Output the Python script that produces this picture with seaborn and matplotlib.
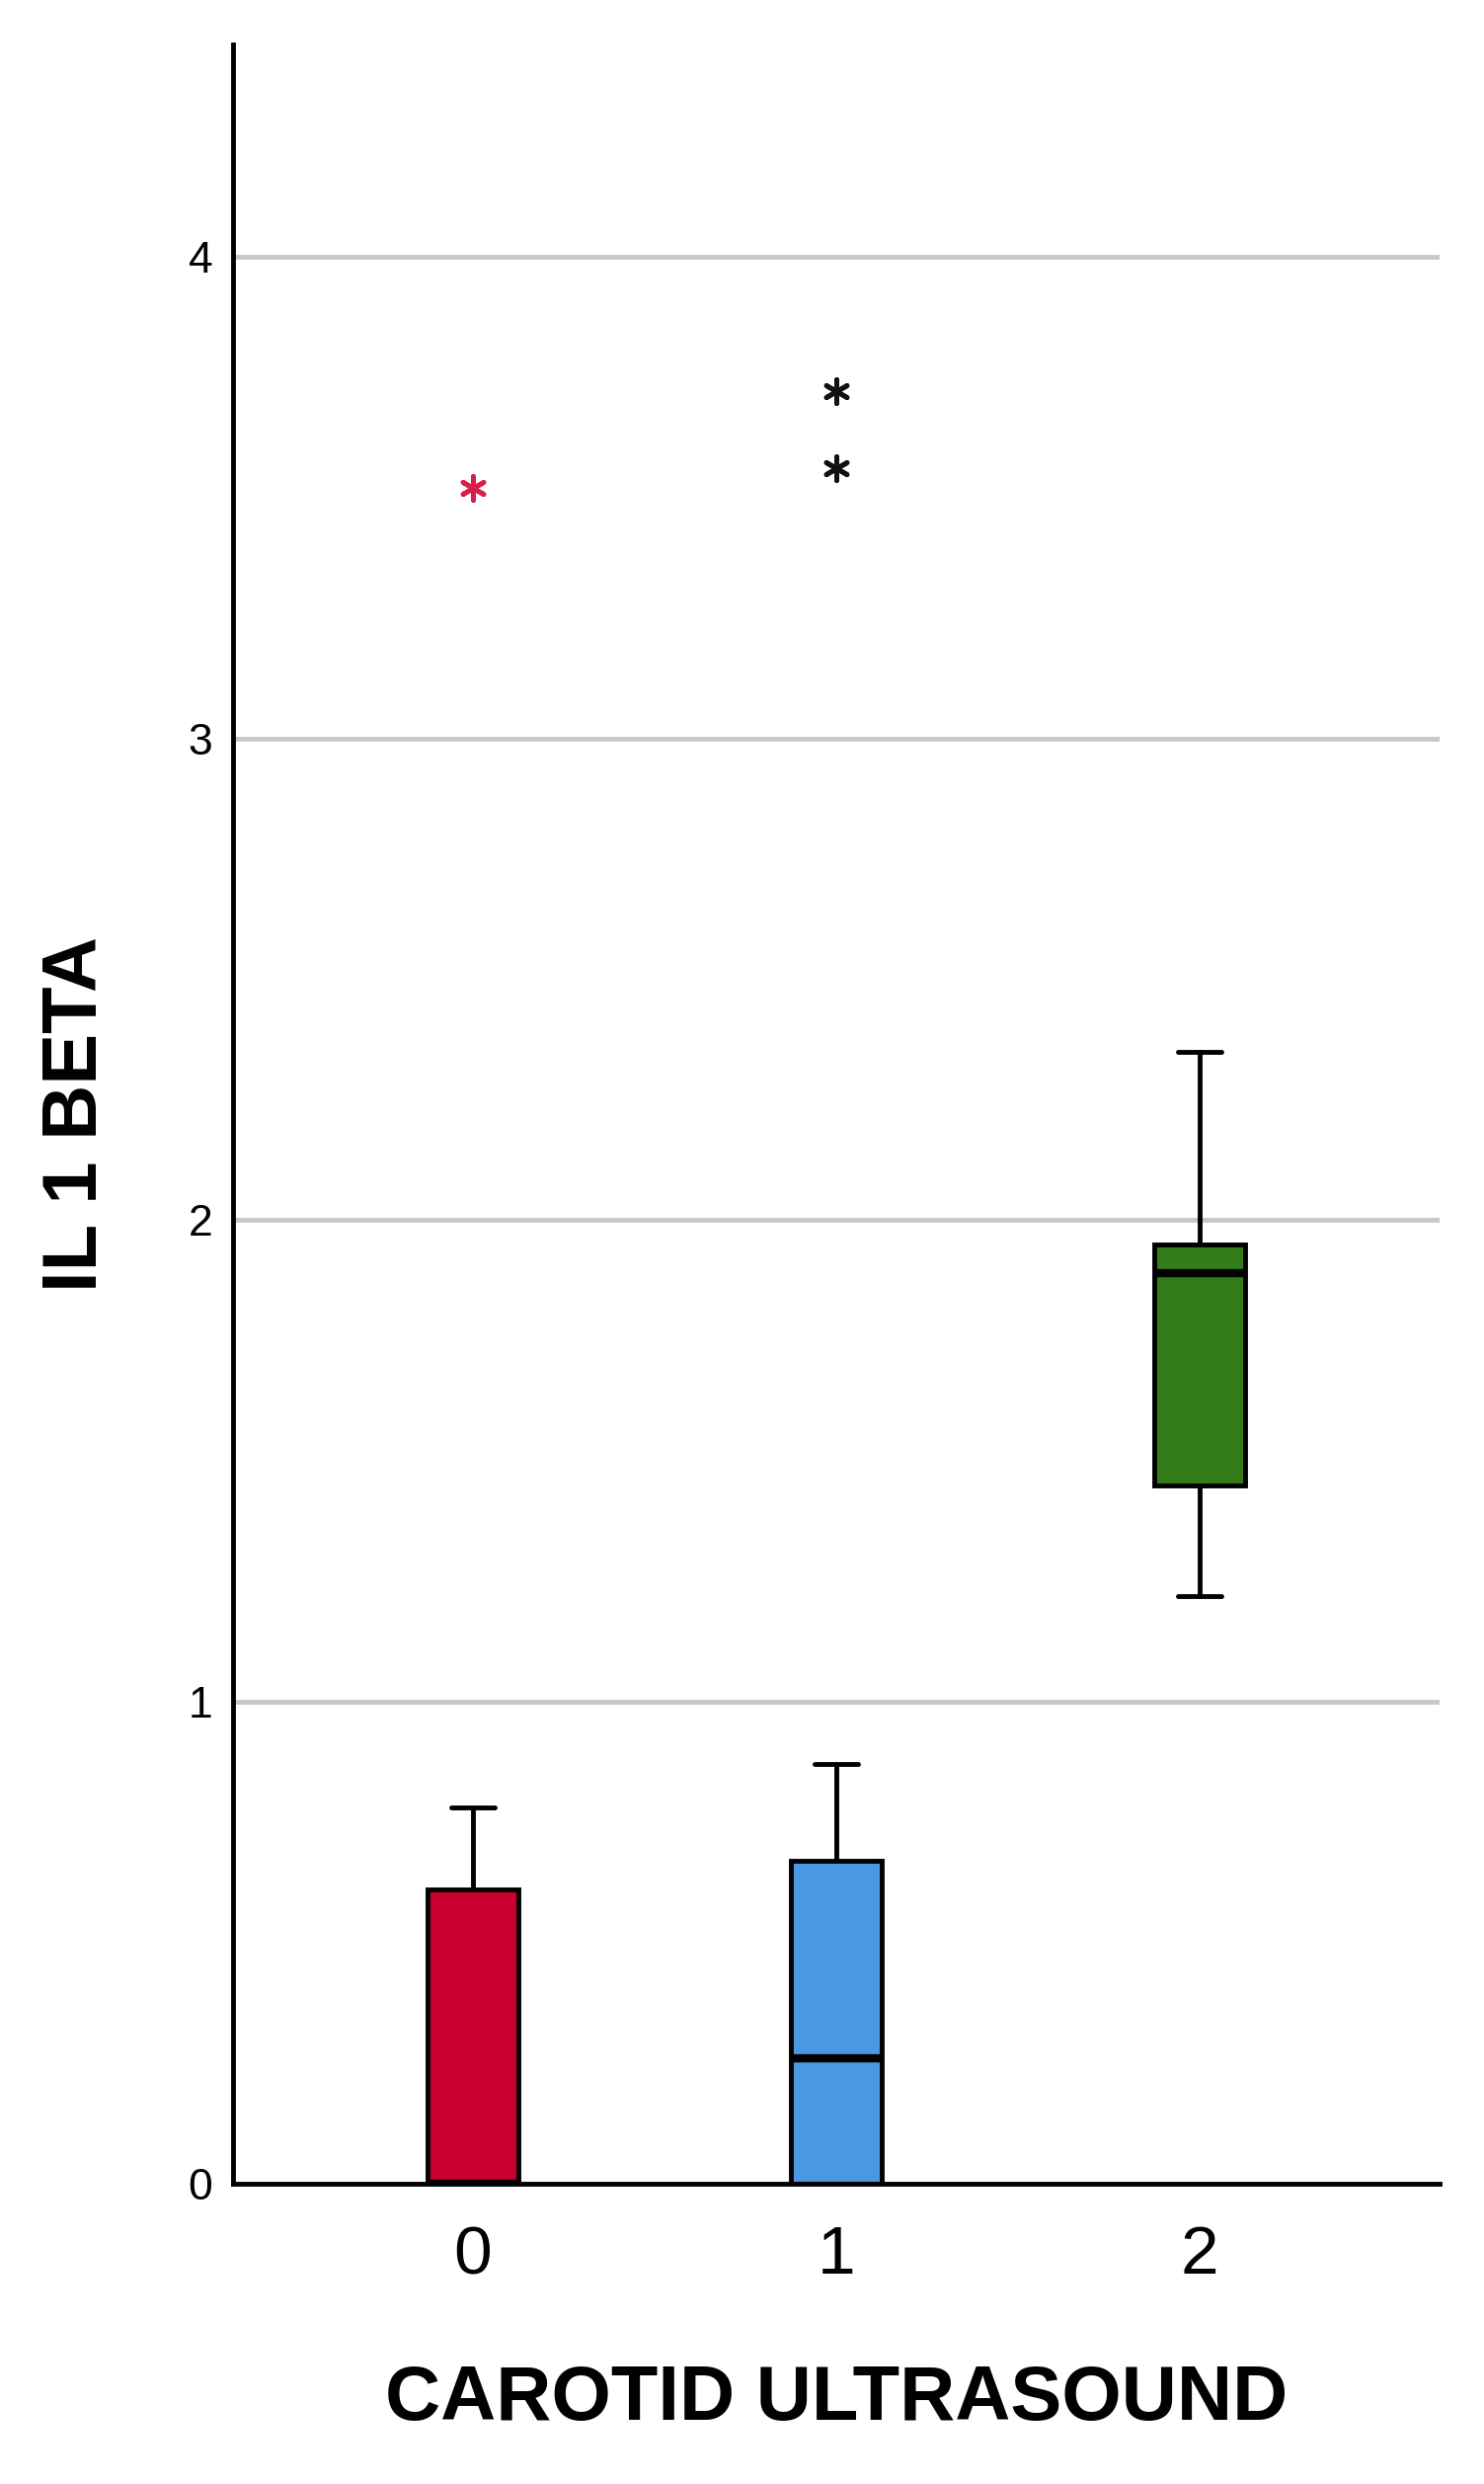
import matplotlib
matplotlib.use("Agg")
import matplotlib.pyplot as plt
import seaborn as sns

sns.set_style("white")
plt.rcParams['font.family'] = ['Liberation Sans', 'DejaVu Sans']
plt.rcParams['text.color'] = 'black'
plt.rcParams['axes.labelcolor'] = 'black'
plt.rcParams['xtick.color'] = 'black'
plt.rcParams['ytick.color'] = 'black'

groups = ['0', '1', '2']
q1 = [0.0, 0.0, 1.45]
med = [0.0, 0.26, 1.89]
q3 = [0.61, 0.67, 1.95]
whislo = [0.0, 0.0, 1.22]
whishi = [0.78, 0.87, 2.35]
fliers = [[3.52], [3.72, 3.56], []]
colors = ['#c8002d', '#4a98e2', '#347c1a']
flier_colors = ['#d6204a', '#111111', '#111111']

stats = [dict(label=g, q1=a, med=m, q3=b, whislo=lo, whishi=hi, fliers=[])
         for g, a, m, b, lo, hi in zip(groups, q1, med, q3, whislo, whishi)]

fig = plt.figure(figsize=(15.03, 25.15), dpi=100)
ax = fig.add_axes([0.157, 0.121, 0.813, 0.861])

for y in [1, 2, 3, 4]:
    ax.axhline(y, color='#c8c8c8', lw=3.5, zorder=0)

bp = ax.bxp(stats, positions=range(3), widths=0.25, patch_artist=True,
            showcaps=True,
            boxprops=dict(lw=3.5, edgecolor='black'),
            medianprops=dict(color='black', lw=6),
            whiskerprops=dict(lw=3.5, color='black'),
            capprops=dict(lw=3.5, color='black'))
for patch, c in zip(bp['boxes'], colors):
    patch.set_facecolor(c)
for cap in bp['caps']:
    xd = cap.get_xdata()
    mid = (xd[0] + xd[1]) / 2
    cap.set_xdata([mid - 0.06, mid + 0.06])

for i, (fl, fc) in enumerate(zip(fliers, flier_colors)):
    if fl:
        sns.scatterplot(x=[i] * len(fl), y=fl, ax=ax, marker=(6, 2, 0), s=300,
                        color=fc, linewidth=3.5, edgecolor=fc, zorder=5)

ax.set_xlim(-0.66, 2.66)
ax.set_ylim(0, 4.44)
ax.set_xticks(range(3))
ax.set_xticklabels(groups, fontsize=50)
ax.set_yticks([0, 1, 2, 3, 4])
ax.set_yticklabels(['0', '1', '2', '3', '4'], fontsize=32)
ax.tick_params(length=0, pad=15)
ax.tick_params(axis='x', pad=30)
for s in ['top', 'right']:
    ax.spines[s].set_visible(False)
for s in ['left', 'bottom']:
    ax.spines[s].set_linewidth(3.5)
    ax.spines[s].set_color('black')
ax.set_xlabel('CAROTID ULTRASOUND', fontsize=56, fontweight='bold', labelpad=55)
ax.set_ylabel('IL 1 BETA', fontsize=56, fontweight='bold', labelpad=55)

fig.savefig('out.png', dpi=100)
